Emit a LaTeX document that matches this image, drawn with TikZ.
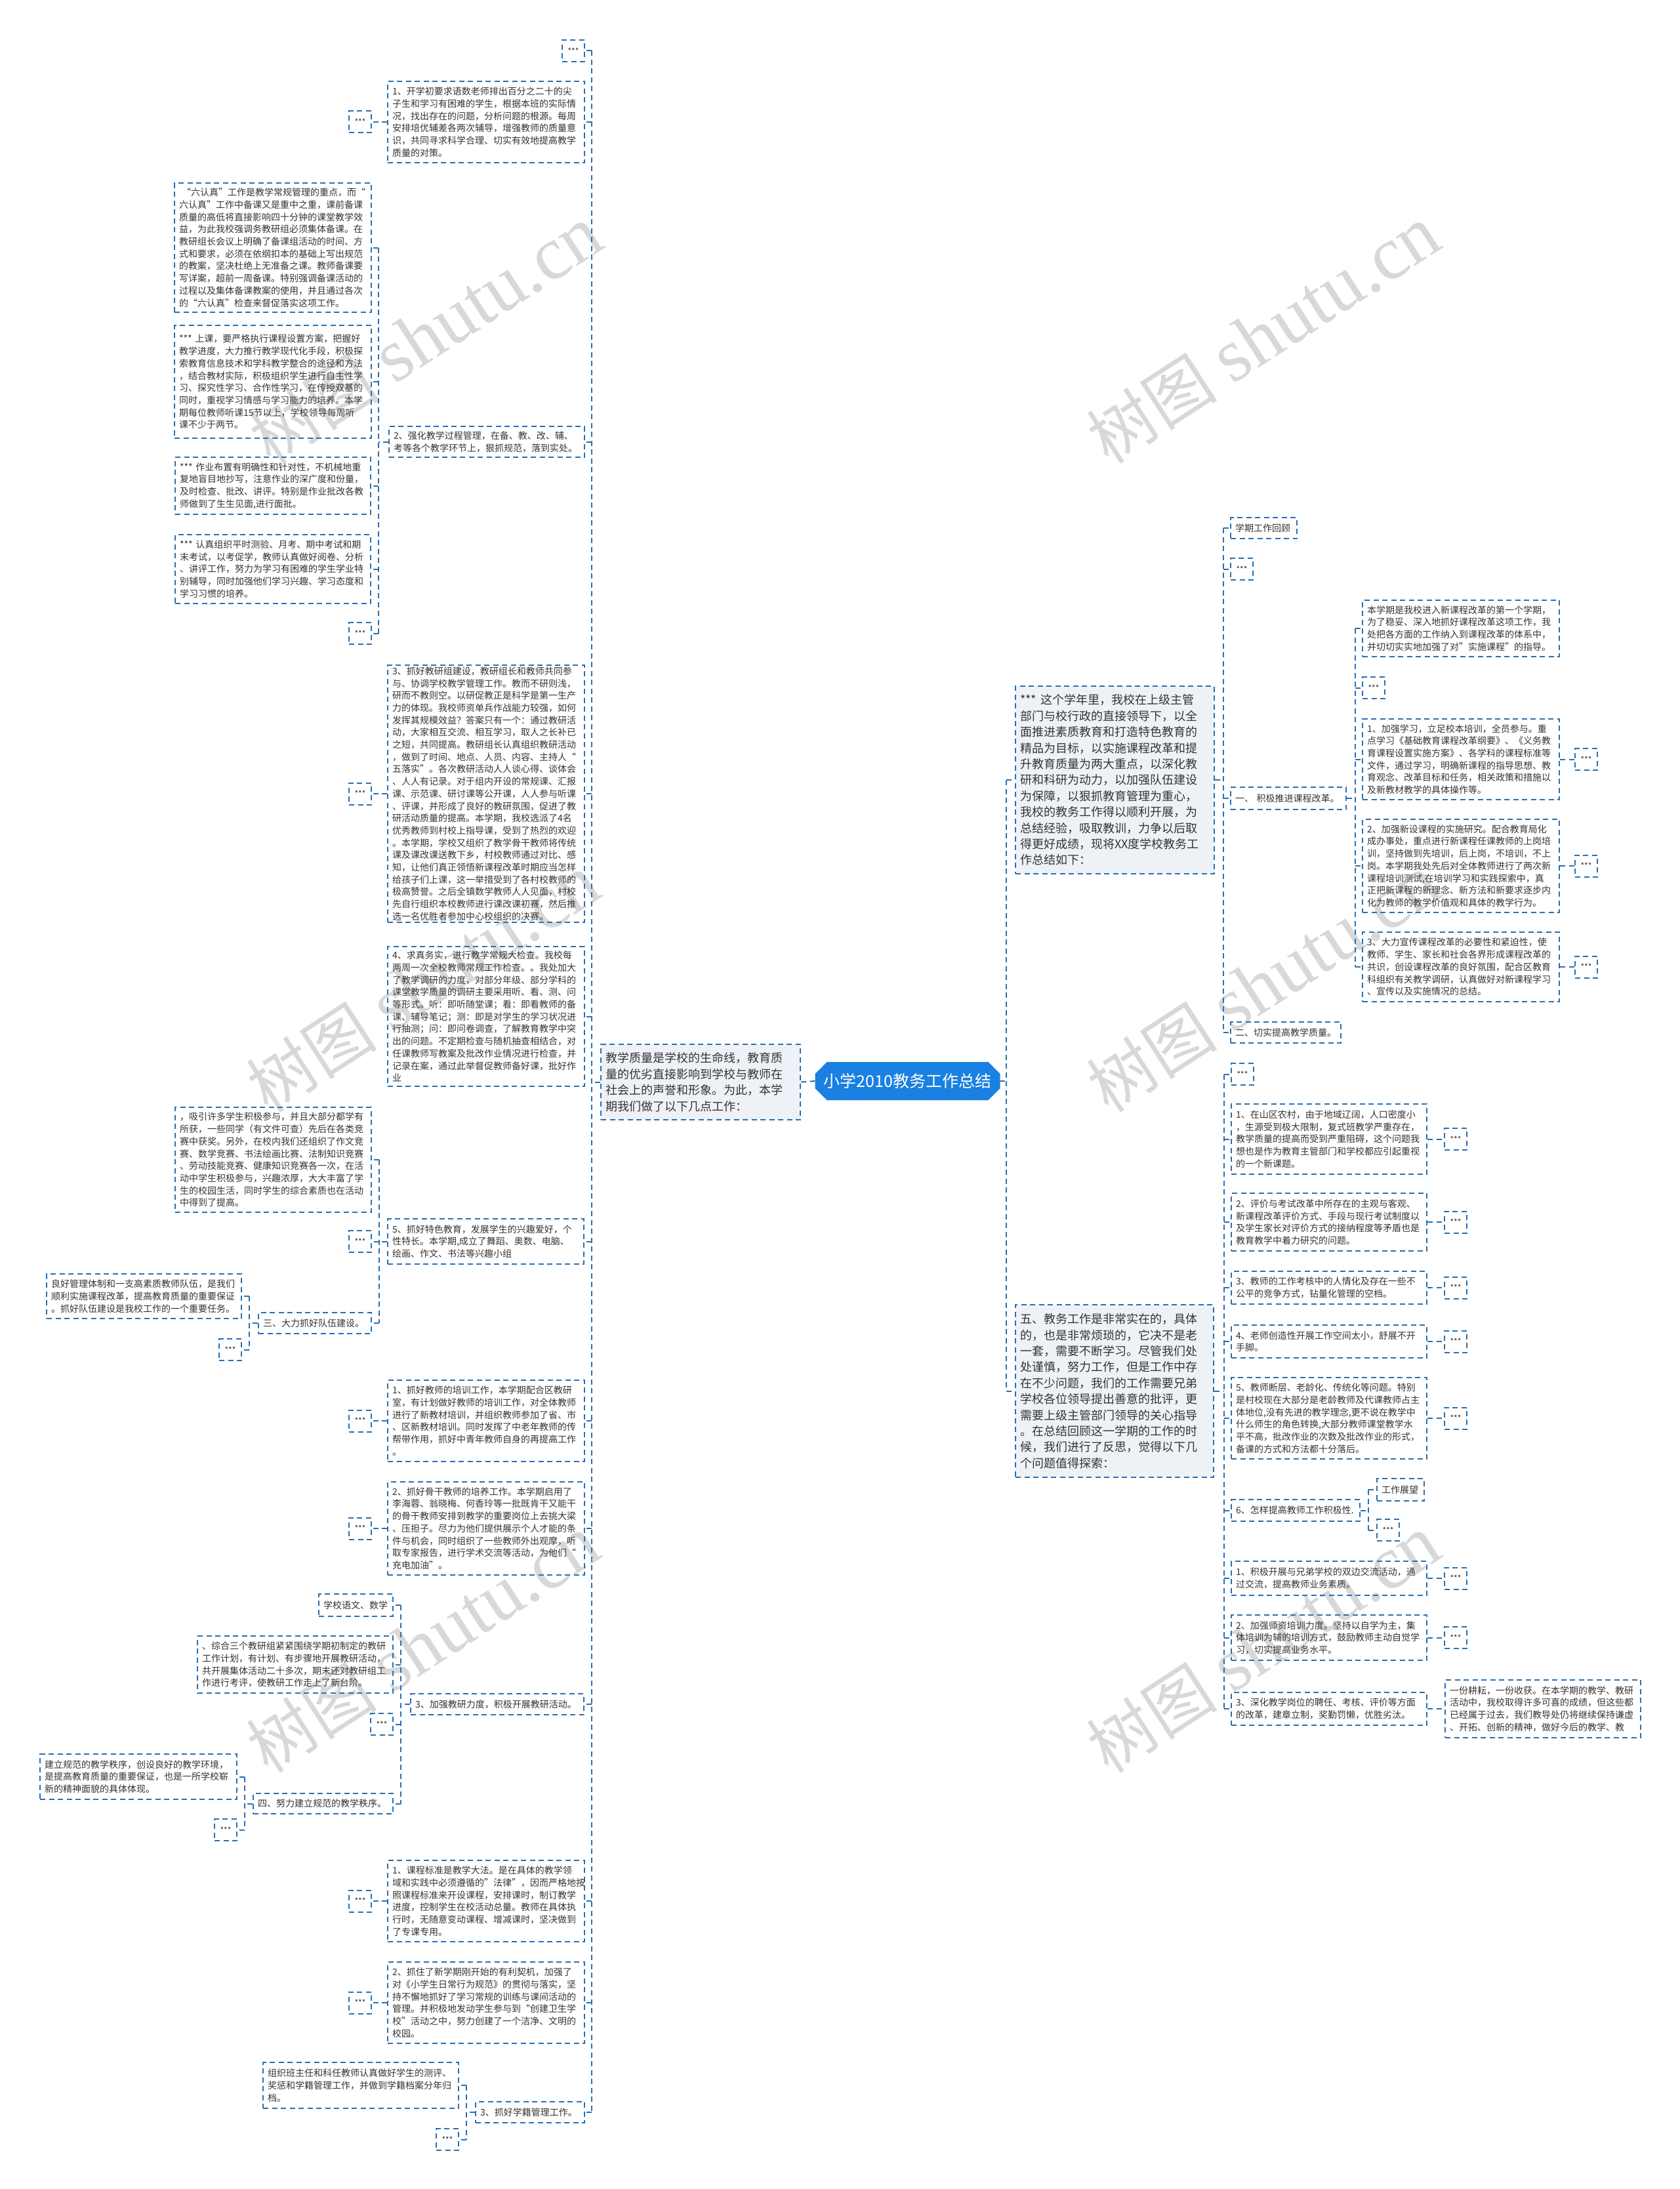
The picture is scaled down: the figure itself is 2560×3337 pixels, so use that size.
\documentclass[tikz,border=0pt]{standalone}
\usepackage{fontspec}
\setmainfont{Noto Sans CJK SC}
\newfontfamily\wmfont{Liberation Serif}
\usetikzlibrary{shapes.misc}
\definecolor{linec}{RGB}{41,112,176}
\definecolor{rootc}{RGB}{26,128,226}
\definecolor{grayf}{RGB}{238,242,247}
\definecolor{txt}{RGB}{51,51,51}
\definecolor{wmc}{RGB}{216,216,216}
\tikzset{
  dsh/.style={draw=linec, line width=2pt, dash pattern=on 8pt off 5.5pt},
  conn/.style={dsh},
  leaf/.style={dsh, anchor=north west, inner xsep=7pt, inner ysep=2pt, align=left, text=txt, font=\fontsize{14}{18.7}\selectfont},
  big/.style={leaf, fill=grayf, font=\fontsize{18}{24.4}\selectfont},
  stars/.style={dsh, anchor=north west, inner sep=0pt, minimum width=34pt, minimum height=33pt, text=txt, font=\fontsize{12}{12}\selectfont},
  wm/.style={rotate=33, text=wmc, font=\fontsize{100}{100}\selectfont},
  rootbox/.style={chamfered rectangle, chamfered rectangle xsep=9pt, chamfered rectangle ysep=9pt, fill=rootc, draw=rootc, text=white, font=\fontsize{25}{30}\selectfont, minimum width=277pt, minimum height=58pt, inner sep=4pt}
}
\begin{document}
\begin{tikzpicture}[x=1pt,y=-1pt]
\fill[white] (0,0) rectangle (2560,3337);
\useasboundingbox (0,0) rectangle (2560,3337);
% watermarks
\foreach \i/\x/\y in {1/649/511,2/1926/511,3/645/1500,4/1926/1500,5/645/2507,6/1926/2507}
  \node[wm] (wm\i) at (\x,\y) {树图\hspace{25pt}{\wmfont\fontsize{115}{115}\selectfont shutu.cn}};

% ---------- root and first level ----------
\node[rootbox] (root) at (1383.5,1648) {小学2010教务工作总结};
\node[big, text width=290pt, minimum height=115pt] (Q) at (915,1591) {教学质量是学校的生命线，教育质\\量的优劣直接影响到学校与教师在\\社会上的声誉和形象。为此，本学\\期我们做了以下几点工作：};
\node[big, text width=289pt, minimum height=286pt] (R1) at (1547,1045) {***~这个学年里，我校在上级主管\\部门与校行政的直接领导下，以全\\面推进素质教育和打造特色教育的\\精品为目标，以实施课程改革和提\\升教育质量为两大重点，以深化教\\研和科研为动力，以加强队伍建设\\为保障，以狠抓教育管理为重心，\\我校的教务工作得以顺利开展，为\\总结经验，吸取教训，力争以后取\\得更好成绩，现将XX度学校教务工\\作总结如下：};
\node[big, text width=288pt, minimum height=263pt] (R2) at (1547,1988) {五、教务工作是非常实在的，具体\\的，也是非常烦琐的，它决不是老\\一套，需要不断学习。尽管我们处\\处谨慎，努力工作，但是工作中存\\在不少问题，我们的工作需要兄弟\\学校各位领导提出善意的批评，更\\需要上级主管部门领导的关心指导\\。在总结回顾这一学期的工作的时\\候，我们进行了反思，觉得以下几\\个问题值得探索：};

% ---------- left column ----------
\node[stars] (L0) at (856,60) {***};
\node[leaf, text width=286pt, minimum height=124pt] (L1) at (590,123) {1、开学初要求语数老师排出百分之二十的尖\\子生和学习有困难的学生，根据本班的实际情\\况，找出存在的问题，分析问题的根源。每周\\安排培优辅差各两次辅导，增强教师的质量意\\识，共同寻求科学合理、切实有效地提高教学\\质量的对策。};
\node[stars] (L1a) at (531,168.5) {***};
\node[leaf, text width=284pt, minimum height=47pt] (L2) at (592,649) {2、强化教学过程管理，在备、教、改、辅、\\考等各个教学环节上，狠抓规范，落到实处。};
\node[leaf, text width=286pt, minimum height=197pt] (L2a) at (265,278) {\hspace{4pt}“六认真”工作是教学常规管理的重点，而“\\六认真”工作中备课又是重中之重，课前备课\\质量的高低将直接影响四十分钟的课堂教学效\\益，为此我校强调务教研组必须集体备课。在\\教研组长会议上明确了备课组活动的时间、方\\式和要求，必须在依纲扣本的基础上写出规范\\的教案，坚决杜绝上无准备之课。教师备课要\\写详案，超前一周备课。特别强调备课活动的\\过程以及集体备课教案的使用，并且通过各次\\的“六认真”检查来督促落实这项工作。};
\node[leaf, text width=286pt, minimum height=172pt] (L2b) at (265,495) {***~上课，要严格执行课程设置方案，把握好\\教学进度，大力推行教学现代化手段，积极探\\索教育信息技术和学科教学整合的途径和方法\\，结合教材实际，积极组织学生进行自主性学\\习、探究性学习、合作性学习，在传授双基的\\同时，重视学习情感与学习能力的培养。本学\\期每位教师听课15节以上，学校领导每周听\\课不少于两节。};
\node[leaf, text width=284pt, minimum height=87pt] (L2c) at (266,696) {***~作业布置有明确性和针对性，不机械地重\\复地盲目地抄写，注意作业的深广度和份量，\\及时检查、批改、讲评。特别是作业批改各教\\师做到了生生见面,进行面批。};
\node[leaf, text width=284pt, minimum height=105pt] (L2d) at (266,814) {***~认真组织平时测验、月考、期中考试和期\\末考试，以考促学，教师认真做好阅卷、分析\\、讲评工作，努力为学习有困难的学生学业特\\别辅导，同时加强他们学习兴趣、学习态度和\\学习习惯的培养。};
\node[stars] (L2e) at (531,948) {***};
\node[leaf, text width=286pt, minimum height=392pt] (L3) at (590,1013) {3、抓好教研组建设，教研组长和教师共同参\\与、协调学校教学管理工作。教而不研则浅，\\研而不教则空。以研促教正是科学是第一生产\\力的体现。我校师资单兵作战能力较强，如何\\发挥其规模效益？答案只有一个：通过教研活\\动，大家相互交流、相互学习，取人之长补已\\之短，共同提高。教研组长认真组织教研活动\\，做到了时间、地点、人员、内容、主持人“\\五落实”。各次教研活动人人谈心得、谈体会\\、人人有记录。对于组内开设的常规课、汇报\\课、示范课、研讨课等公开课，人人参与听课\\、评课，并形成了良好的教研氛围，促进了教\\研活动质量的提高。本学期，我校选派了4名\\优秀教师到村校上指导课，受到了热烈的欢迎\\。本学期，学校又组织了教学骨干教师将传统\\课及课改课送教下乡，村校教师通过对比、感\\知，让他们真正领悟新课程改革时期应当怎样\\给孩子们上课，这一举措受到了各村校教师的\\极高赞誉。之后全镇数学教师人人见面，村校\\先自行组织本校教师进行课改课初赛，然后推\\选一名优胜者参加中心校组织的决赛。};
\node[stars] (L3a) at (531,1192.5) {***};
\node[leaf, text width=286pt, minimum height=213pt] (L4) at (590,1442) {4、求真务实，进行教学常规大检查。我校每\\两周一次全校教师常规工作检查。。我处加大\\了教学调研的力度，对部分年级、部分学科的\\课堂教学质量的调研主要采用听、看、测、问\\等形式。听：即听随堂课；看：即看教师的备\\课、辅导笔记；测：即是对学生的学习状况进\\行抽测；问：即问卷调查，了解教育教学中突\\出的问题。不定期检查与随机抽查相结合，对\\任课教师写教案及批改作业情况进行检查，并\\记录在案，通过此举督促教师备好课，批好作\\业};
\node[leaf, text width=285pt, minimum height=69pt] (L5) at (590,1857) {5、抓好特色教育，发展学生的兴趣爱好，个\\性特长。本学期,成立了舞蹈、奥数、电脑、\\绘画、作文、书法等兴趣小组};
\node[leaf, text width=285pt, minimum height=160pt] (L5a) at (266,1687) {，吸引许多学生积极参与，并且大部分都学有\\所获，一些同学（有文件可查）先后在各类竞\\赛中获奖。另外，在校内我们还组织了作文竞\\赛、数学竞赛、书法绘画比赛、法制知识竞赛\\、劳动技能竞赛、健康知识竞赛各一次，在活\\动中学生积极参与，兴趣浓厚，大大丰富了学\\生的校园生活，同时学生的综合素质也在活动\\中得到了提高。};
\node[stars] (L5b) at (531,1875) {***};
\node[leaf, text width=158pt, minimum height=32pt] (L5c) at (393,2000) {三、大力抓好队伍建设。};
\node[leaf, text width=283pt, minimum height=68pt] (L5c1) at (70,1941) {良好管理体制和一支高素质教师队伍，是我们\\顺利实施课程改革，提高教育质量的重要保证\\。抓好队伍建设是我校工作的一个重要任务。};
\node[stars] (L5c2) at (333,2040) {***};
\node[leaf, text width=286pt, minimum height=124pt] (L6) at (590,2103) {1、抓好教师的培训工作，本学期配合区教研\\室，有计划做好教师的培训工作，对全体教师\\进行了新教材培训，并组织教师参加了省、市\\、区新教材培训。同时发挥了中老年教师的传\\帮带作用，抓好中青年教师自身的再提高工作\\。};
\node[stars] (L6a) at (531,2148.5) {***};
\node[leaf, text width=286pt, minimum height=142pt] (L7) at (590,2258) {2、抓好骨干教师的培养工作。本学期启用了\\李海蓉、翁晓梅、何香玲等一批既肯干又能干\\的骨干教师安排到教学的重要岗位上去挑大梁\\、压担子。尽力为他们提供展示个人才能的条\\件与机会，同时组织了一些教师外出观摩，听\\取专家报告，进行学术交流等活动，为他们“\\充电加油”。};
\node[stars] (L7a) at (531,2312.5) {***};
\node[leaf, text width=250pt, minimum height=32pt] (L8) at (625,2581) {3、加强教研力度，积极开展教研活动。};
\node[leaf, text width=99pt, minimum height=34pt] (L8a) at (485,2429) {学校语文、数学};
\node[leaf, text width=284pt, minimum height=87pt] (L8b) at (300,2493) {、综合三个教研组紧紧围绕学期初制定的教研\\工作计划，有计划、有步骤地开展教研活动，\\共开展集体活动二十多次，期末还对教研组工\\作进行考评，使教研工作走上了新台阶。};
\node[stars] (L8c) at (564,2611) {***};
\node[leaf, text width=199pt, minimum height=31pt] (L8d) at (385,2733) {四、努力建立规范的教学秩序。};
\node[leaf, text width=286pt, minimum height=69pt] (L8d1) at (60,2673) {建立规范的教学秩序，创设良好的教学环境，\\是提高教育质量的重要保证，也是一所学校崭\\新的精神面貌的具体体现。};
\node[stars] (L8d2) at (326,2772) {***};
\node[leaf, text width=286pt, minimum height=124pt] (L9) at (590,2835) {1、课程标准是教学大法。是在具体的教学领\\域和实践中必须遵循的"法律"，因而严格地按\\照课程标准来开设课程，安排课时，制订教学\\进度，控制学生在校活动总量。教师在具体执\\行时，无随意变动课程、增减课时，坚决做到\\了专课专用。};
\node[stars] (L9a) at (531,2880.5) {***};
\node[leaf, text width=286pt, minimum height=124pt] (L10) at (590,2990) {2、抓住了新学期刚开始的有利契机，加强了\\对《小学生日常行为规范》的贯彻与落实，坚\\持不懈地抓好了学习常规的训练与课间活动的\\管理。并积极地发动学生参与到“创建卫生学\\校”活动之中，努力创建了一个洁净、文明的\\校园。};
\node[stars] (L10a) at (531,3035.5) {***};
\node[leaf, text width=152pt, minimum height=32pt] (L11) at (724,3203) {3、抓好学籍管理工作。};
\node[leaf, text width=284pt, minimum height=70pt] (L11a) at (400,3143) {组织班主任和科任教师认真做好学生的测评、\\奖惩和学籍管理工作，并做到学籍档案分年归\\档。};
\node[stars] (L11b) at (664,3244) {***};

% ---------- right, upper ----------
\node[leaf, text width=87pt, minimum height=32pt] (R1a) at (1875,788) {学期工作回顾};
\node[stars] (R1b) at (1875,850) {***};
\node[leaf, text width=162pt, minimum height=34pt] (R1c) at (1875,1199) {一、~积极推进课程改革。};
\node[leaf, text width=154pt, minimum height=32pt] (R1d) at (1875,1557) {二、切实提高教学质量。};
\node[leaf, text width=286pt, minimum height=86pt] (R1c1) at (2076,914) {本学期是我校进入新课程改革的第一个学期，\\为了稳妥、深入地抓好课程改革这项工作，我\\处把各方面的工作纳入到课程改革的体系中，\\并切切实实地加强了对"实施课程"的指导。};
\node[stars] (R1c2) at (2076,1031) {***};
\node[leaf, text width=286pt, minimum height=123pt] (R1c3) at (2076,1095) {1、加强学习，立足校本培训，全员参与。重\\点学习《基础教育课程改革纲要》、《义务教\\育课程设置实施方案》、各学科的课程标准等\\文件，通过学习，明确新课程的指导思想、教\\育观念、改革目标和任务，相关政策和措施以\\及新教材教学的具体操作等。};
\node[stars] (R1c3a) at (2400,1140) {***};
\node[leaf, text width=286pt, minimum height=142pt] (R1c4) at (2076,1248) {2、加强新设课程的实施研究。配合教育局化\\成办事处，重点进行新课程任课教师的上岗培\\训，坚持做到先培训，后上岗，不培训，不上\\岗。本学期我处先后对全体教师进行了两次新\\课程培训测试,在培训学习和实践探索中，真\\正把新课程的新理念、新方法和新要求逐步内\\化为教师的教学价值观和具体的教学行为。};
\node[stars] (R1c4a) at (2400,1302.5) {***};
\node[leaf, text width=286pt, minimum height=106pt] (R1c5) at (2076,1420) {3、大力宣传课程改革的必要性和紧迫性，使\\教师、学生、家长和社会各界形成课程改革的\\共识，创设课程改革的良好氛围，配合区教育\\科组织有关教学调研，认真做好对新课程学习\\、宣传以及实施情况的总结。};
\node[stars] (R1c5a) at (2400,1456.5) {***};

% ---------- right, lower ----------
\node[stars] (R2a) at (1876,1620) {***};
\node[leaf, text width=284pt, minimum height=107pt] (R2b) at (1876,1682) {1、在山区农村，由于地域辽阔，人口密度小\\，生源受到极大限制，复式班教学严重存在，\\教学质量的提高而受到严重阻碍，这个问题我\\想也是作为教育主管部门和学校都应引起重视\\的一个新课题。};
\node[stars] (R2b1) at (2201,1719) {***};
\node[leaf, text width=284pt, minimum height=88pt] (R2c) at (1876,1818) {2、评价与考试改革中所存在的主观与客观、\\新课程改革评价方式、手段与现行考试制度以\\及学生家长对评价方式的接纳程度等矛盾也是\\教育教学中着力研究的问题。};
\node[stars] (R2c1) at (2201,1845.5) {***};
\node[leaf, text width=284pt, minimum height=50pt] (R2d) at (1876,1937) {3、教师的工作考核中的人情化及存在一些不\\公平的竞争方式，钻量化管理的空档。};
\node[stars] (R2d1) at (2201,1945.5) {***};
\node[leaf, text width=284pt, minimum height=50pt] (R2e) at (1876,2019) {4、老师创造性开展工作空间太小，舒展不开\\手脚。};
\node[stars] (R2e1) at (2201,2027.5) {***};
\node[leaf, text width=284pt, minimum height=124pt] (R2f) at (1876,2099) {5、教师断层、老龄化、传统化等问题。特别\\是村校现在大部分是老龄教师及代课教师占主\\体地位,没有先进的教学理念,更不说在教学中\\什么师生的角色转换,大部分教师课堂教学水\\平不高，批改作业的次数及批改作业的形式，\\备课的方式和方法都十分落后。};
\node[stars] (R2f1) at (2201,2144.5) {***};
\node[leaf, text width=182pt, minimum height=33pt] (R2g) at (1876,2285) {6、怎样提高教师工作积极性.};
\node[leaf, text width=58pt, minimum height=34pt] (R2g1) at (2098,2253) {工作展望};
\node[stars] (R2g2) at (2098,2315) {***};
\node[leaf, text width=284pt, minimum height=52pt] (R2h) at (1876,2379) {1、积极开展与兄弟学校的双边交流活动，通\\过交流，提高教师业务素质。};
\node[stars] (R2h1) at (2201,2388.5) {***};
\node[leaf, text width=284pt, minimum height=69pt] (R2i) at (1876,2461) {2、加强师资培训力度。坚持以自学为主，集\\体培训为辅的培训方式，鼓励教师主动自觉学\\习，切实提高业务水平。};
\node[stars] (R2i1) at (2201,2479) {***};
\node[leaf, text width=284pt, minimum height=50pt] (R2j) at (1876,2579) {3、深化教学岗位的聘任、考核、评价等方面\\的改革，建章立制，奖勤罚懒，优胜劣汰。};
\node[leaf, text width=284pt, minimum height=88pt] (R2j1) at (2202,2560) {一份耕耘，一份收获。在本学期的教学、教研\\活动中，我校取得许多可喜的成绩，但这些都\\已经属于过去，我们教导处仍将继续保持谦虚\\、开拓、创新的精神，做好今后的教学、教};

% ---------- connectors ----------
\draw[conn] (Q.east) -- (root.west);
% left trunk
\draw[conn] (Q.west) -- ++(-13,0) coordinate (qb);
\draw[conn] (qb |- L0.east) -- (qb |- L11.east);
\foreach \n in {L0,L1,L2,L3,L4,L5,L6,L7,L8,L9,L10,L11}
  \draw[conn] (qb |- \n.east) -- (\n.east);
% single left children
\foreach \p/\c in {L1/L1a,L3/L3a,L6/L6a,L7/L7a,L9/L9a,L10/L10a}
  \draw[conn] (\p.west) -- ++(-12,0) |- (\c.east);
% L2 bracket
\draw[conn] (L2.west) -- ++(-15,0) coordinate (b2);
\draw[conn] (b2 |- L2a.east) -- (b2 |- L2e.east);
\foreach \c in {L2a,L2b,L2c,L2d,L2e} \draw[conn] (b2 |- \c.east) -- (\c.east);
% L5 bracket
\draw[conn] (L5.west) -- ++(-12,0) coordinate (b5);
\draw[conn] (b5 |- L5a.east) -- (b5 |- L5c.east);
\foreach \c in {L5a,L5b,L5c} \draw[conn] (b5 |- \c.east) -- (\c.east);
% L5c bracket
\draw[conn] (L5c.west) -- ++(-13,0) coordinate (b5c);
\draw[conn] (b5c |- L5c1.east) -- (b5c |- L5c2.east);
\foreach \c in {L5c1,L5c2} \draw[conn] (b5c |- \c.east) -- (\c.east);
% L8 bracket
\draw[conn] (L8.west) -- ++(-14,0) coordinate (b8);
\draw[conn] (b8 |- L8a.east) -- (b8 |- L8d.east);
\foreach \c in {L8a,L8b,L8c,L8d} \draw[conn] (b8 |- \c.east) -- (\c.east);
% L8d bracket
\draw[conn] (L8d.west) -- ++(-12,0) coordinate (b8d);
\draw[conn] (b8d |- L8d1.east) -- (b8d |- L8d2.east);
\foreach \c in {L8d1,L8d2} \draw[conn] (b8d |- \c.east) -- (\c.east);
% L11 bracket
\draw[conn] (L11.west) -- ++(-13,0) coordinate (b11);
\draw[conn] (b11 |- L11a.east) -- (b11 |- L11b.east);
\foreach \c in {L11a,L11b} \draw[conn] (b11 |- \c.east) -- (\c.east);
% root right
\draw[conn] (root.east) -- ++(10,0) coordinate (rb);
\draw[conn] (rb |- R1.west) -- (rb |- R2.west);
\foreach \c in {R1,R2} \draw[conn] (rb |- \c.west) -- (\c.west);
% R1 bracket
\draw[conn] (R1.east) -- ++(13,0) coordinate (br1);
\draw[conn] (br1 |- R1a.west) -- (br1 |- R1d.west);
\foreach \c in {R1a,R1b,R1c,R1d} \draw[conn] (br1 |- \c.west) -- (\c.west);
% R1c bracket
\draw[conn] (R1c.east) -- ++(13,0) coordinate (br1c);
\draw[conn] (br1c |- R1c1.west) -- (br1c |- R1c5.west);
\foreach \c in {R1c1,R1c2,R1c3,R1c4,R1c5} \draw[conn] (br1c |- \c.west) -- (\c.west);
\foreach \p/\c in {R1c3/R1c3a,R1c4/R1c4a,R1c5/R1c5a,R2b/R2b1,R2c/R2c1,R2d/R2d1,R2e/R2e1,R2f/R2f1,R2h/R2h1,R2i/R2i1,R2j/R2j1}
  \draw[conn] (\p.east) -- ++(13,0) |- (\c.west);
% R2 bracket
\draw[conn] (R2.east) -- ++(15,0) coordinate (br2);
\draw[conn] (br2 |- R2a.west) -- (br2 |- R2j.west);
\foreach \c in {R2a,R2b,R2c,R2d,R2e,R2f,R2g,R2h,R2i,R2j} \draw[conn] (br2 |- \c.west) -- (\c.west);
% R2g bracket
\draw[conn] (R2g.east) -- ++(12,0) coordinate (br2g);
\draw[conn] (br2g |- R2g1.west) -- (br2g |- R2g2.west);
\foreach \c in {R2g1,R2g2} \draw[conn] (br2g |- \c.west) -- (\c.west);
\end{tikzpicture}
\end{document}
